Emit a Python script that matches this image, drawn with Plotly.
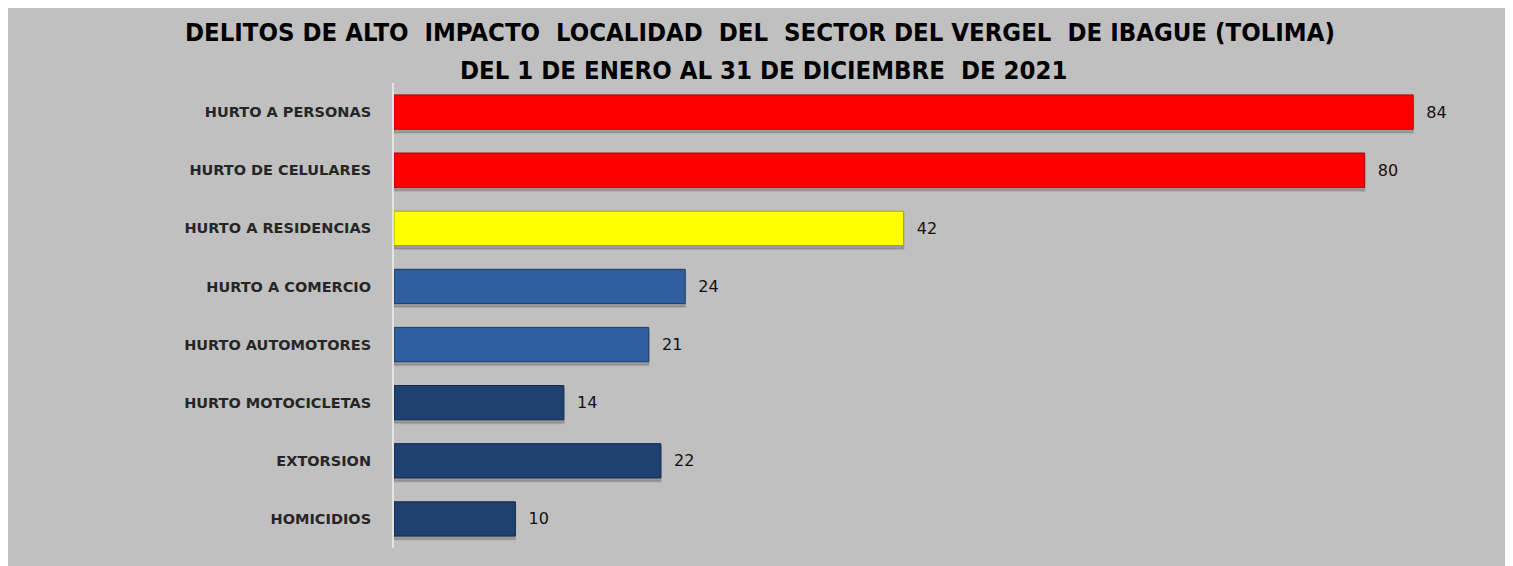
import plotly.graph_objects as go

categories = ["HURTO A PERSONAS", "HURTO DE CELULARES", "HURTO A RESIDENCIAS",
              "HURTO A COMERCIO", "HURTO AUTOMOTORES", "HURTO MOTOCICLETAS",
              "EXTORSION", "HOMICIDIOS"]
values = [84, 80, 42, 24, 21, 14, 22, 10]
bar_colors = ["#FF0000", "#FF0000", "#FFFF00", "#2F5F9E", "#2F5F9E",
              "#1F4172", "#1F4172", "#1F4172"]
edge_colors = ["#B00000", "#B00000", "#A8A800", "#1A3A66", "#1A3A66",
               "#122A4E", "#122A4E", "#122A4E"]
value_labels = ["84", "80", "42", "24", "21", "14", "22", "10"]

# the page body adds an 8px margin; figure coordinates below are in figure pixels
W, H = 1505, 558
L, R, T, B = 386, 27, 75, 18
pw, ph = W - L - R, H - T - B

def px_x(p):
    return (p - L) / pw

def px_y(p):
    return (H - B - p) / ph

fig = go.Figure()

# soft shadow under each bar
fig.add_trace(go.Bar(
    y=categories, x=values, orientation="h",
    marker=dict(color="rgba(60,60,60,0.28)", line=dict(color="rgba(60,60,60,0.15)", width=2)),
    width=0.59, offset=-0.295 + 0.06,
    hoverinfo="skip", showlegend=False,
))

fig.add_trace(go.Bar(
    y=categories, x=values, orientation="h",
    marker=dict(color=bar_colors, line=dict(color=edge_colors, width=1)),
    width=0.59, offset=-0.295,
    text=["  " + t for t in value_labels], textposition="outside",
    textfont=dict(family="DejaVu Sans", size=16, color="#111111"),
    cliponaxis=False, showlegend=False,
))

title_font = dict(family="DejaVu Sans Condensed", size=25.5, color="#000000", weight="bold")

fig.update_layout(
    width=W, height=H,
    margin=dict(l=L, r=R, t=T, b=B),
    paper_bgcolor="#C0C0C0",
    plot_bgcolor="#C0C0C0",
    barmode="overlay",
    xaxis=dict(range=[0, 90], visible=False, showgrid=False, zeroline=False),
    yaxis=dict(autorange="reversed", showgrid=False, zeroline=False,
               showline=True, linecolor="#E4E4E4", linewidth=2,
               ticks="", ticklabelstandoff=18,
               tickfont=dict(family="DejaVu Sans", size=14.5, color="#262626", weight="bold")),
    annotations=[
        dict(text="DELITOS DE ALTO  IMPACTO  LOCALIDAD  DEL  SECTOR DEL VERGEL  DE IBAGUE (TOLIMA)",
             xref="paper", yref="paper", x=px_x(752), y=px_y(24),
             xanchor="center", yanchor="middle", showarrow=False, font=title_font),
        dict(text="DEL 1 DE ENERO AL 31 DE DICIEMBRE  DE 2021",
             xref="paper", yref="paper", x=px_x(755), y=px_y(62),
             xanchor="center", yanchor="middle", showarrow=False, font=title_font),
    ],
)

fig.write_html("out.html")
